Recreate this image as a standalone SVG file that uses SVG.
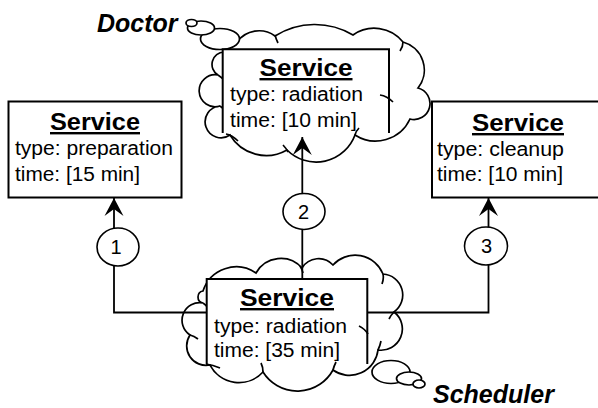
<svg xmlns="http://www.w3.org/2000/svg" width="598" height="408" viewBox="0 0 598 408">
<style>
.cloud{fill:#fff;stroke:#000;stroke-width:1.7}
.curl{fill:none;stroke:#000;stroke-width:1.7}
.bfill{fill:#fff;stroke:none}
.bline{fill:none;stroke:#000;stroke-width:2}
.box{fill:#fff;stroke:#000;stroke-width:2}
.title{font-family:"Liberation Sans",Arial,sans-serif;font-weight:bold;font-size:24px;text-anchor:middle;text-decoration:underline}
.body{font-family:"Liberation Sans",Arial,sans-serif;font-size:20px}
.actor{font-family:"Liberation Sans",Arial,sans-serif;font-weight:bold;font-style:italic;font-size:25px}
.conn{fill:none;stroke:#000;stroke-width:1.8}
.lbl{fill:#fff;stroke:#000;stroke-width:1.6}
.num{font-family:"Liberation Sans",Arial,sans-serif;font-size:20px;text-anchor:middle}
</style>
<defs>
<marker id="arr" markerUnits="userSpaceOnUse" viewBox="-18 -10 19 20" refX="0" refY="0" markerWidth="19" markerHeight="20" orient="auto">
<path d="M0,0 L-18,-9.5 L-11,0 L-18,9.5 Z" fill="#000"/>
</marker>
</defs>

<g id="prep">
<rect class="box" x="8.5" y="101.5" width="173" height="96"/>
<text class="title" x="95" y="130" textLength="90" lengthAdjust="spacingAndGlyphs">Service</text>
<text class="body" x="15" y="155" textLength="158" lengthAdjust="spacingAndGlyphs">type: preparation</text>
<text class="body" x="15" y="181" textLength="125" lengthAdjust="spacingAndGlyphs">time: [15 min]</text>
</g>

<g id="cleanup">
<rect class="box" x="432" y="101.5" width="175" height="96"/>
<text class="title" x="518" y="131" textLength="92" lengthAdjust="spacingAndGlyphs">Service</text>
<text class="body" x="437" y="156" textLength="127" lengthAdjust="spacingAndGlyphs">type: cleanup</text>
<text class="body" x="437" y="181" textLength="126" lengthAdjust="spacingAndGlyphs">time: [10 min]</text>
</g>

<g id="doctor-radiation">
<path class="cloud" d="M224,52 A8.6,8.6 0 0 1 237,42 A27.2,27.2 0 0 1 275,36 A74.6,74.6 0 0 1 353,35 A36.9,36.9 0 0 1 403,42 A29,29 0 0 1 418,88 A16,16 0 0 1 410,119 A38,38 0 0 1 355,135 A41.4,41.4 0 0 1 287,150 A42.1,42.1 0 0 1 230,135 A15.9,15.9 0 1 1 220,106 A16,16 0 1 1 218,75 A12.4,12.4 0 0 1 224,52 Z"/>
<ellipse class="cloud" cx="220" cy="39" rx="19.5" ry="10.5"/>
<ellipse class="cloud" cx="201" cy="28" rx="13.5" ry="7"/>
<ellipse class="cloud" cx="191.5" cy="23" rx="5.5" ry="3.5"/>
<path class="curl" d="M275,35 Q276,39 278,43 M403,42 Q403,47 400,51 M218,75 Q221,77 224,80 M220,106 Q223,108 225,111"/>
<rect class="bfill" x="222.7" y="49.3" width="166.3" height="84"/>
<path class="bline" d="M222.7,133 V49.3 H389 V133"/>
<path class="curl" d="M380,95 Q387,96 393,102 M226,134 Q232,135 238,141 M283,145 Q286,148 288,152 M355,135 Q356,131 359,128"/>
<text class="title" x="306" y="76" textLength="93" lengthAdjust="spacingAndGlyphs">Service</text>
<text class="body" x="230" y="101" textLength="133" lengthAdjust="spacingAndGlyphs">type: radiation</text>
<text class="body" x="230" y="126.5" textLength="127" lengthAdjust="spacingAndGlyphs">time: [10 min]</text>
<text class="actor" x="97" y="32">Doctor</text>
</g>

<g id="scheduler-radiation">
<path class="cloud" d="M203,291 A35,35 0 0 1 256,273 A28.3,28.3 0 0 1 302,268 A19.5,19.5 0 0 1 333,265 A30,30 0 0 1 383,274 A21,21 0 0 1 394,312 A21.3,21.3 0 0 1 378,350 A28.6,28.6 0 0 1 333,370 A40.6,40.6 0 0 1 263,372 A32.6,32.6 0 0 1 210,365 A19.5,19.5 0 0 1 190,335 A17.6,17.6 0 0 1 203,303 A6.1,6.1 0 0 1 203,291 Z"/>
<ellipse class="cloud" cx="391" cy="372" rx="19" ry="11.5"/>
<ellipse class="cloud" cx="409" cy="378.5" rx="12.5" ry="6.5"/>
<ellipse class="cloud" cx="419" cy="384" rx="6" ry="4"/>
<path class="curl" d="M300,266 Q302,269 303,273 M383,274 Q384,279 382,284 M394,312 Q391,315 389,319 M203,303 Q206,305 208,308 M190,335 Q194,336 198,339"/>
<rect class="bfill" x="206.7" y="279" width="160.6" height="85"/>
<path class="bline" d="M206.7,364 V279 H367.3 V364"/>
<path class="curl" d="M359,326 Q365,329 368,334 M206,364 Q213,365 220,368 M333,370 Q334,366 336,362 M263,372 Q263,367 261,363 M378,350 Q380,346 381,341"/>
<text class="title" x="287" y="306" textLength="94" lengthAdjust="spacingAndGlyphs">Service</text>
<text class="body" x="214" y="332.5" textLength="133" lengthAdjust="spacingAndGlyphs">type: radiation</text>
<text class="body" x="214" y="357" textLength="126" lengthAdjust="spacingAndGlyphs">time: [35 min]</text>
<text class="actor" x="433" y="403">Scheduler</text>
</g>

<g id="connectors">
<path class="conn" d="M206.7,312.5 H114 V198" marker-end="url(#arr)"/>
<path class="conn" d="M302.3,279 V137" marker-end="url(#arr)"/>
<path class="conn" d="M367.3,312.5 H488.5 V198" marker-end="url(#arr)"/>
<ellipse class="lbl" cx="118" cy="247" rx="21" ry="19"/>
<text class="num" x="116" y="254">1</text>
<ellipse class="lbl" cx="304" cy="211.5" rx="21" ry="18"/>
<text class="num" x="303.5" y="218.5">2</text>
<ellipse class="lbl" cx="486" cy="246" rx="21.5" ry="19"/>
<text class="num" x="486.5" y="253">3</text>
</g>
</svg>
